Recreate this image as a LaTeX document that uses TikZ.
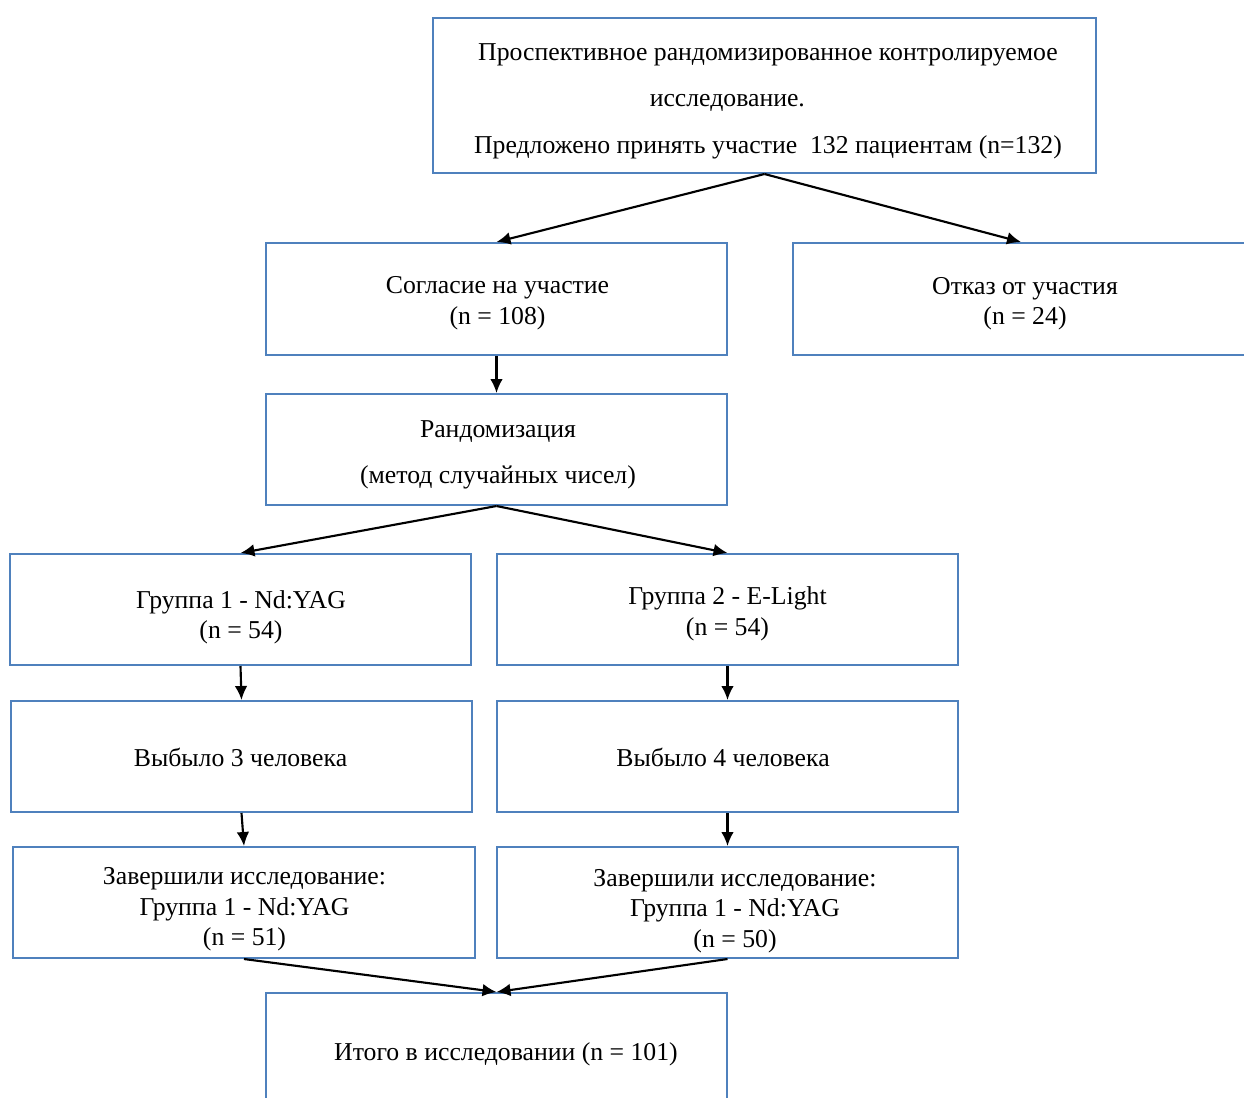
\documentclass[tikz,border=0pt]{standalone}
\usepackage{fontspec}
\setmainfont{Liberation Serif}
\usetikzlibrary{arrows.meta}
\definecolor{boxblue}{HTML}{4F81BD}
\begin{document}
\begin{tikzpicture}[x=0.75pt,y=-0.75pt,
  box/.style={draw=boxblue, line width=1.5pt, rectangle, inner sep=0pt,
    minimum width=345.75pt, minimum height=83.25pt},
  txt/.style={inner sep=0pt, align=center, font=\fontsize{19.3}{22.9}\selectfont},
  wide/.style={font=\fontsize{19.3}{34.9}\selectfont},
  arr/.style={-{Latex[length=10.5pt,width=9.5pt]}, line width=1.6pt}]
\clip (0,0) rectangle (1244,1097);
\fill[white] (0,0) rectangle (1244,1097);
% boxes
\node[box, minimum width=497.25pt, minimum height=116.25pt] (top) at (764.5,95.5) {};
\node[box, minimum height=84pt] (agree) at (496.5,299) {};
\node[box, minimum width=342pt, minimum height=84pt] (refuse) at (1021,299) {};
\node[box] (rand) at (496.5,449.5) {};
\node[box] (g1) at (240.5,609.5) {};
\node[box] (g2) at (727.5,609.5) {};
\node[box] (d1) at (241.5,756.5) {};
\node[box] (d2) at (727.5,756.5) {};
\node[box, minimum width=346.5pt] (c1) at (244,902.5) {};
\node[box] (c2) at (727.5,902.5) {};
\node[box, minimum height=88.5pt] (total) at (496.5,1052) {};
% texts
\node[txt, wide] (toptxt) at (768,101)
  {Проспективное рандомизированное контролируемое\\исследование.\hspace*{61pt}\mbox{}\\Предложено принять участие\ \ 132 пациентам (n=132)};
\node[txt] (agreetxt) at (497.5,303) {Согласие на участие\\(n = 108)};
\node[txt] (refusetxt) at (1025,303.5) {Отказ от участия\\(n = 24)};
\node[txt, wide] (randtxt) at (498,455) {Рандомизация\\(метод случайных чисел)};
\node[txt] (g1txt) at (241,617.5) {Группа 1 - Nd:YAG\\(n = 54)};
\node[txt] (g2txt) at (727.5,614) {Группа 2 - E-Light\\(n = 54)};
\node[txt] (d1txt) at (240.5,757.5) {Выбыло 3 человека};
\node[txt] (d2txt) at (723,757.5) {Выбыло 4 человека};
\node[txt] (c1txt) at (244.5,909.5) {Завершили исследование:\\Группа 1 - Nd:YAG\\(n = 51)};
\node[txt] (c2txt) at (735,911) {Завершили исследование:\\Группа 1 - Nd:YAG\\(n = 50)};
\node[txt] (totaltxt) at (506,1054) {Итого в исследовании (n = 101)};
% connectors
\draw[arr] (top.south) -- (agree.north);
\draw[arr] (top.south) -- (refuse.north);
\draw[arr] (agree.south) -- (rand.north);
\draw[arr] (rand.south) -- (g1.north);
\draw[arr] (rand.south) -- (g2.north);
\draw[arr] (g1.south) -- (d1.north);
\draw[arr] (g2.south) -- (d2.north);
\draw[arr] (d1.south) -- (c1.north);
\draw[arr] (d2.south) -- (c2.north);
\draw[arr] (c1.south) -- (total.north);
\draw[arr] (c2.south) -- (total.north);
\end{tikzpicture}
\end{document}
